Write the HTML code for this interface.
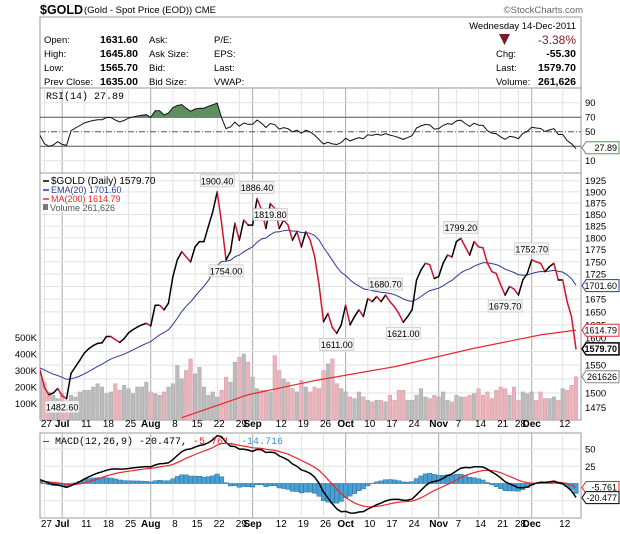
<!DOCTYPE html>
<html><head><meta charset="utf-8"><style>
body{margin:0;background:#fff;}
svg{display:block;font-family:"Liberation Sans",sans-serif;}
</style></head><body>
<svg id="c" width="620" height="534" viewBox="0 0 620 534">
<defs>
<clipPath id="pclip"><rect x="40" y="173" width="541" height="247"/></clipPath>
<clipPath id="rclip"><rect x="40" y="88" width="541" height="29"/></clipPath>
<clipPath id="mclip"><rect x="40" y="433" width="541" height="85"/></clipPath>
</defs>
<text x="40" y="14" font-size="12.5" font-weight="bold">$GOLD</text>
<text x="84" y="13" font-size="9.5">(Gold - Spot Price (EOD)) CME</text>
<text x="583" y="13" font-size="9.5" fill="#666" text-anchor="end">©StockCharts.com</text>
<g font-size="9.5">
<rect x="40" y="17" width="541" height="71" fill="#fff" stroke="#999"/>
<text x="44" y="43">Open:</text><text x="138" y="43" text-anchor="end" font-weight="bold" font-size="10.5">1631.60</text>
<text x="44" y="57">High:</text><text x="138" y="57" text-anchor="end" font-weight="bold" font-size="10.5">1645.80</text>
<text x="44" y="71">Low:</text><text x="138" y="71" text-anchor="end" font-weight="bold" font-size="10.5">1565.70</text>
<text x="44" y="85">Prev Close:</text><text x="138" y="85" text-anchor="end" font-weight="bold" font-size="10.5">1635.00</text>
<text x="149" y="43">Ask:</text><text x="149" y="57">Ask Size:</text><text x="149" y="71">Bid:</text><text x="149" y="85">Bid Size:</text>
<text x="214" y="43">P/E:</text><text x="214" y="57">EPS:</text><text x="214" y="71">Last:</text><text x="214" y="85">VWAP:</text>
<text x="576" y="29" text-anchor="end">Wednesday  14-Dec-2011</text>
<polygon points="499,34 510,34 504.5,45" fill="#7a1a2a"/>
<text x="576" y="44" text-anchor="end" font-size="12" fill="#8a1a2a">-3.38%</text>
<text x="496" y="57">Chg:</text><text x="576" y="57" text-anchor="end" font-weight="bold" font-size="10.5">-55.30</text>
<text x="496" y="71">Last:</text><text x="576" y="71" text-anchor="end" font-weight="bold" font-size="10.5">1579.70</text>
<text x="496" y="85">Volume:</text><text x="576" y="85" text-anchor="end" font-weight="bold" font-size="10.5">261,626</text>
</g>
<g id="grid"></g>
<g id="marks"></g>
</svg>
<script>
const closes=[1541,1510,1497,1500,1508,1495,1490,1535,1547,1559,
1572,1580,1586,1590,1591,1603,1603,1597,1592,1599,
1610,1616,1621,1625,1628,1623,1663,1663,1654,1667,
1720,1754,1771,1760,1750,1781,1792,1792,1824,1856,
1900,1831,1754,1771,1831,1795,1838,1827,1827,1885,
1860,1820,1874,1863,1820,1838,1827,1795,1813,1781,
1813,1795,1761,1703,1631,1647,1620,1609,1625,1663,
1625,1641,1654,1641,1676,1670,1680,1670,1683,1670,
1660,1647,1630,1641,1654,1713,1733,1747,1744,1716,
1720,1747,1764,1760,1792,1799,1781,1764,1792,1781,
1779,1747,1730,1726,1703,1683,1700,1695,1683,1713,
1726,1754,1750,1747,1730,1740,1747,1713,1713,1670,
1640,1579.7];
const volumes=[250,230,170,150,130,160,110,150,140,170,180,180,200,220,200,160,170,220,180,210,190,160,200,200,230,170,160,150,170,200,220,330,250,300,370,280,320,200,150,170,140,180,260,230,350,380,400,350,260,190,180,180,170,390,300,250,230,190,170,240,200,170,200,190,300,340,370,220,190,170,140,130,170,140,120,110,120,120,110,150,120,180,180,120,120,150,190,140,130,150,140,170,120,110,150,140,140,150,160,190,150,170,130,180,200,190,150,200,120,170,160,170,120,170,130,130,140,120,190,180,210,262];
const ma200Idx=[32,47,62,80,98,113,121];
const ma200Val=[1457,1497,1522,1547,1581,1606,1615];
const dateIdx=[1,5,10,15,20,25,30,35,40,45,48,54,59,64,69,74,79,84,90,94,99,104,108,111,118];
const dateLbl=["27","Jul","11","18","25","Aug","8","15","22","29","Sep","12","19","26","Oct","10","17","24","Nov","7","14","21","28","Dec","12"];
const priceTicks=[1475,1500,1525,1550,1575,1600,1625,1650,1675,1700,1725,1750,1775,1800,1825,1850,1875,1900,1925];
const volTicks=[100,200,300,400,500];
const rsiTicks=[10,30,50,70,90];
const macdTicks=[-25,0,25,50];
const annIdx=[40,42,49,52,67,78,82,95,105,111,5];
const annVal=["1900.40","1754.00","1886.40","1819.80","1611.00","1680.70","1621.00","1799.20","1679.70","1752.70","1482.60"];
const annPos=[-1,1,-1,1,1,-1,1,-1,1,-1,1];

const N=closes.length;
const X=i=>40+i*(536/(N-1));
const PY=p=>180.7+851*Math.log(1925/p);
const VY=v=>420-v*0.165;
const RY=r=>160.7-(r-10)*0.725;
const MY=m=>483.5-m*0.69;
const NS="http://www.w3.org/2000/svg";
const grid=document.getElementById('grid'), marks=document.getElementById('marks');
function mk(tag,attrs,parent,txt){const e=document.createElementNS(NS,tag);for(const k in attrs)e.setAttribute(k,attrs[k]);if(txt!==undefined)e.textContent=txt;(parent||marks).appendChild(e);return e;}
function ema(arr,n,seed){const k=2/(n+1);let o=[],e=seed!==undefined?seed:arr[0];arr.forEach((v,i)=>{e=i===0&&seed===undefined?v:v*k+e*(1-k);o.push(e);});return o;}
const ema20=ema(closes,20,1545);
const rsi=[];let ag=0,al=0;
for(let i=0;i<N;i++){if(i===0){rsi.push(45);ag=3;al=3.6;continue;}const d=closes[i]-closes[i-1];ag=(ag*13+Math.max(d,0))/14;al=(al*13+Math.max(-d,0))/14;rsi.push(100-100/(1+ag/al));}
const e12=ema(closes,12,1530),e26=ema(closes,26,1525);
const macd=e12.map((v,i)=>v-e26[i]);
const sig=ema(macd,9,2);
const hist=macd.map((v,i)=>v-sig[i]);

[[88,85,'rsi-panel'],[173,247,'price-panel'],[433,85,'macd-panel']].forEach(p=>{
 const r=mk('rect',{x:40,y:p[0],width:541,height:p[1],fill:'#fff',stroke:'#999'},grid);
 
 
});
dateIdx.forEach((d,k)=>{
 const month=isNaN(+dateLbl[k]);
 [[88,173],[173,420],[433,518]].forEach(s=>{
  const l=mk('line',{x1:X(d),x2:X(d),y1:s[0],y2:s[1],stroke:month?'#aaa':'#e2e2e2','stroke-width':1},grid);
  
  
 });
 [427,527].forEach(yy=>{
  const t=mk('text',{x:X(d)+(month?0:2),y:yy,'font-size':10,'text-anchor':'middle','font-weight':month?'bold':'normal'},grid,dateLbl[k]);
  
  
 });
});
priceTicks.forEach(p=>{
 const l=mk('line',{x1:40,x2:581,y1:PY(p),y2:PY(p),stroke:'#e2e2e2'},grid);
 
 
 const t=mk('text',{x:585,y:PY(p)+3.5,'font-size':9.5},grid,p);
 
 
});
volTicks.forEach(v=>{
 const t=mk('text',{x:37,y:VY(v)+3.5,'font-size':9.5,'text-anchor':'end'},grid,v+'K');
 
 
});
rsiTicks.forEach(r=>{
 const strong=(r===30||r===70), dash=r===50;
 const l=mk('line',{x1:40,x2:581,y1:RY(r),y2:RY(r),stroke:(strong||dash)?'#555':'#e2e2e2','stroke-dasharray':dash?'6,2,1,2':'none'},grid);
 
 
 if(r!==30){const t=mk('text',{x:585,y:RY(r)+3.5,'font-size':9.5},grid,r);
 
 }
});
macdTicks.forEach(m=>{
 const l=mk('line',{x1:40,x2:581,y1:MY(m),y2:MY(m),stroke:'#e2e2e2'},grid);
 
 
 if(m>0){const t=mk('text',{x:585,y:MY(m)+3.5,'font-size':9.5},grid,m);
 
 }
});

const gR=mk('g',{});


let rp=rsi.map((r,i)=>X(i).toFixed(1)+','+RY(r).toFixed(1));
const rf=mk('polygon',{points:X(0)+','+RY(70)+' '+rp.join(' ')+' '+X(N-1)+','+RY(70),fill:'#5f8f5f','clip-path':'url(#rclip)'},gR);


const rl=mk('polyline',{points:rp.join(' '),fill:'none',stroke:'#111','stroke-width':1},gR);


const rlab=mk('text',{x:46,y:99,'font-size':10,'font-family':'Liberation Mono, monospace'},marks,'RSI(14) 27.89');



const gV=mk('g',{'clip-path':'url(#pclip)'});


const bw=536/(N-1)*0.8;
volumes.forEach((v,i)=>{
 if(i>=N)return;
 const down=i>0&&closes[i]<closes[i-1];
 const b=mk('rect',{x:X(i)-bw/2,y:VY(v),width:bw,height:420-VY(v),fill:down?'#e9b4bb':'#bcbcbc',stroke:down?'#d99aa3':'#a8a8a8','stroke-width':0.5},gV);
 
 
});
const ma=mk('polyline',{points:ma200Idx.map((d,k)=>X(d)+','+PY(ma200Val[k])).join(' '),fill:'none',stroke:'#e8282e','stroke-width':1.2,'clip-path':'url(#pclip)'});


const em=mk('polyline',{points:ema20.map((v,i)=>X(i).toFixed(1)+','+PY(v).toFixed(1)).join(' '),fill:'none',stroke:'#2a3a9a','stroke-width':1,'clip-path':'url(#pclip)'});


const gP=mk('g',{'clip-path':'url(#pclip)'});


for(let i=1;i<N;i++){
 const s=mk('line',{x1:X(i-1),y1:PY(closes[i-1]),x2:X(i),y2:PY(closes[i]),stroke:closes[i]<closes[i-1]?'#d3122e':'#000','stroke-width':1.5,'stroke-linecap':'round'},gP);
 
 
}
annIdx.forEach((d,k)=>{
 const y=PY(closes[d])+annPos[k]*11;
 const g=mk('g',{});
 
 
 mk('rect',{x:X(d)-17,y:y-6,width:34,height:12,fill:'#f4f4f4',stroke:'#bbb','stroke-width':0.6},g);
 mk('text',{x:X(d),y:y+3.5,'font-size':9,'text-anchor':'middle'},g,annVal[k]);
});
const lg=mk('g',{'font-size':9.5});


mk('rect',{x:41,y:174,width:80,height:38,fill:'#fff','fill-opacity':0.8},lg);
mk('line',{x1:43,x2:49,y1:181,y2:181,stroke:'#000','stroke-width':1.5},lg);
mk('text',{x:51,y:184,'font-size':10},lg,'$GOLD (Daily) 1579.70');
mk('line',{x1:43,x2:49,y1:190,y2:190,stroke:'#2a3a9a','stroke-width':1.5},lg);
mk('text',{x:51,y:193,fill:'#2a3a9a','font-size':9},lg,'EMA(20) 1701.60');
mk('line',{x1:43,x2:49,y1:199,y2:199,stroke:'#e8282e','stroke-width':1.5},lg);
mk('text',{x:51,y:202,fill:'#e8282e','font-size':9},lg,'MA(200) 1614.79');
mk('rect',{x:43,y:204,width:5,height:6,fill:'#777'},lg);
mk('text',{x:50,y:211,fill:'#555','font-size':9},lg,'Volume 261,626');

const gH=mk('g',{'clip-path':'url(#mclip)'});


hist.forEach((h,i)=>{
 const y0=MY(0),y1=MY(h);
 const b=mk('rect',{x:X(i)-2.2,y:Math.min(y0,y1),width:4.4,height:Math.abs(y1-y0),fill:'#4a9fd4',stroke:'#2a6f9a','stroke-width':0.5},gH);
 
 
});
const sl=mk('polyline',{points:sig.map((v,i)=>X(i).toFixed(1)+','+MY(v).toFixed(1)).join(' '),fill:'none',stroke:'#e8282e','stroke-width':1.2,'clip-path':'url(#mclip)'});


const ml=mk('polyline',{points:macd.map((v,i)=>X(i).toFixed(1)+','+MY(v).toFixed(1)).join(' '),fill:'none',stroke:'#000','stroke-width':1.5,'clip-path':'url(#mclip)'});


const mlg=mk('text',{x:43,y:444,'font-size':10,'font-family':'Liberation Mono, monospace'});


mk('tspan',{},mlg,'— MACD(12,26,9) -20.477,');
mk('tspan',{fill:'#e8282e'},mlg,' -5.761,');
mk('tspan',{fill:'#3399cc'},mlg,' -14.716');

function tag(y,txt,stroke,bold,name){
 const g=mk('g',{});
 
 
 mk('polygon',{points:`582,${y} 586,${y-6} 619,${y-6} 619,${y+6} 586,${y+6}`,fill:'#fff',stroke:stroke,'stroke-width':bold?1.5:1},g);
 mk('text',{x:617,y:y+3.2,'font-size':9,'text-anchor':'end','font-weight':bold?'bold':'normal'},g,txt);
}
tag(RY(27.89),'27.89','#5f8f5f',false,'rsi-value-tag');
tag(PY(1701.6),'1701.60','#2a3a9a',false,'ema-value-tag');
tag(PY(1614.79),'1614.79','#e8282e',false,'ma-value-tag');
tag(PY(1579.7),'1579.70','#000',true,'price-value-tag');
tag(VY(262),'261626','#888',false,'volume-value-tag');
tag(MY(-5.761),'-5.761','#e8282e',false,'signal-value-tag');
tag(MY(-20.477),'-20.477','#000',false,'macd-value-tag');
</script>
</body></html>
